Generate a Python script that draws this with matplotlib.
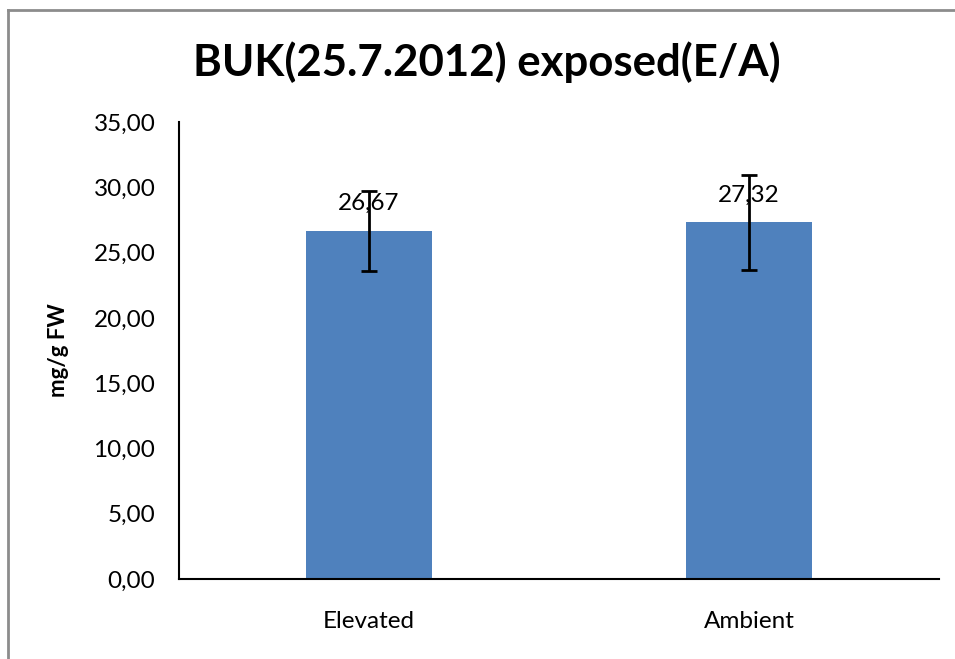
import matplotlib
matplotlib.use("Agg")
import matplotlib.pyplot as plt
from matplotlib.ticker import FuncFormatter

categories = ["Elevated", "Ambient"]
values = [26.67, 27.32]
errors = [3.07, 3.63]
labels = ["26,67", "27,32"]

plt.rcParams['font.family'] = ['Lato', 'DejaVu Sans']

fig = plt.figure(figsize=(9.55, 6.59), dpi=100)
ax = fig.add_axes([179 / 955, 1 - 579 / 659, 760 / 955, 457 / 659])

x = range(len(categories))
ax.bar(x, values, width=0.334, color="#4F81BD", zorder=2)
ax.errorbar(x, values, yerr=errors, fmt="none", ecolor="black",
            elinewidth=2, capsize=6, capthick=2, zorder=3)

for xi, v, lab in zip(x, values, labels):
    ax.annotate(lab, (xi, v), xytext=(0, 12), textcoords="offset points",
                ha="center", va="bottom", fontsize=17.5)

ax.set_xlim(-0.5, 1.5)
ax.set_ylim(0, 35)
ax.set_yticks(range(0, 36, 5))
ax.yaxis.set_major_formatter(FuncFormatter(lambda v, p: f"{v:.2f}".replace(".", ",")))
ax.set_xticks(list(x))
ax.set_xticklabels(categories)
ax.tick_params(axis="y", length=0, labelsize=17.5, pad=17)
ax.tick_params(axis="x", length=0, labelsize=17.5, pad=23)

for s in ["top", "right"]:
    ax.spines[s].set_visible(False)
for s in ["left", "bottom"]:
    ax.spines[s].set_linewidth(1.5)

ax.set_ylabel("mg/g FW", fontsize=16, fontweight="bold", labelpad=18)
fig.text(487 / 955, 1 - 62 / 659, "BUK(25.7.2012) exposed(E/A)", ha="center",
         va="center", fontsize=31.5, fontweight="bold")

# chart area frame (only left and top visible in the crop)
fig.add_artist(plt.Line2D([8 / 955, 8 / 955], [0, 1 - 10 / 659], color="#8c8c8c",
                          lw=2, transform=fig.transFigure))
fig.add_artist(plt.Line2D([8 / 955, 1], [1 - 10 / 659, 1 - 10 / 659], color="#8c8c8c",
                          lw=2, transform=fig.transFigure))

fig.savefig("out.png", dpi=100)
